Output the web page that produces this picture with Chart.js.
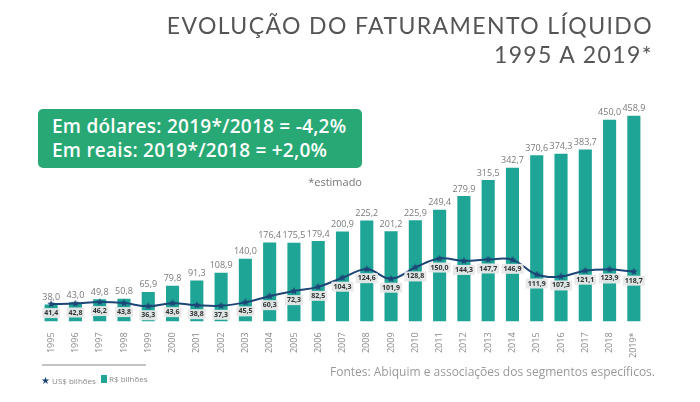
<!DOCTYPE html>
<html>
<head>
<meta charset="utf-8">
<script src="https://cdn.jsdelivr.net/npm/chart.js@4/dist/chart.umd.min.js"></script>
<style>
  html, body { margin: 0; padding: 0; background: #fff; }
  #wrap { position: relative; width: 700px; height: 402px; overflow: hidden; font-family: "Open Sans", "Lato", sans-serif; }
  #chart { position: absolute; left: 0; top: 0; }
  .title { position: absolute; right: 47px; color: #555; font-family: "Lato", "Open Sans", sans-serif; font-weight: 400; font-size: 23px; letter-spacing: 1.4px; white-space: nowrap; }
  #box { position: absolute; left: 38px; top: 109px; width: 324px; height: 59px; background: #28a874; border-radius: 5px; color: #fff; font-weight: 600; font-size: 19px; letter-spacing: 0.25px; line-height: 24px; padding: 5px 0 0 14px; box-sizing: border-box; white-space: nowrap; }
  #est { position: absolute; left: 290px; top: 174px; width: 72px; text-align: right; font-size: 11px; color: #777; }
  #sep { position: absolute; left: 42px; top: 364px; width: 104px; height: 2px; background: #c4c4c4; }
  .leg { position: absolute; top: 373px; font-size: 8px; color: #888; white-space: nowrap; }
  #src { position: absolute; left: 330px; top: 363px; font-size: 12px; color: #9a9a9a; white-space: nowrap; }
</style>
</head>
<body>
<div id="wrap">
  <canvas id="chart" width="700" height="402"></canvas>
  <div class="title" style="top:11px">EVOLUÇÃO DO FATURAMENTO LÍQUIDO</div>
  <div class="title" style="top:40px">1995 A 2019*</div>
  <div id="box">Em dólares: 2019*/2018 = -4,2%<br>Em reais: 2019*/2018 = +2,0%</div>
  <div id="est">*estimado</div>
  <div id="sep"></div>
  <div class="leg" style="left:41px"><span style="color:#1d4677;font-size:10px">&#9733;</span> US$ bilhões</div>
  <div class="leg" style="left:101px"><span style="display:inline-block;width:6px;height:8px;background:#1fa596;vertical-align:-1px"></span> R$ bilhões</div>
  <div id="src">Fontes: Abiquim e associações dos segmentos específicos.</div>
</div>
<script>
const years = ['1995','1996','1997','1998','1999','2000','2001','2002','2003','2004','2005','2006','2007',
               '2008','2009','2010','2011','2012','2013','2014','2015','2016','2017','2018','2019*'];
const reais = [38.0, 43.0, 49.8, 50.8, 65.9, 79.8, 91.3, 108.9, 140.0, 176.4, 175.5, 179.4, 200.9,
               225.2, 201.2, 225.9, 249.4, 279.9, 315.5, 342.7, 370.6, 374.3, 383.7, 450.0, 458.9];
const dolares = [41.4, 42.8, 46.2, 43.8, 36.3, 43.6, 38.8, 37.3, 45.5, 60.3, 72.3, 82.5, 104.3,
                 124.6, 101.9, 128.8, 150.0, 144.3, 147.7, 146.9, 111.9, 107.3, 121.1, 123.9, 118.7];

const teal = '#1fa596';
const navy = '#1d4677';
const fmt = v => v.toFixed(1).replace('.', ',');

// filled star used as point marker
function makeStar(size, color) {
    const c = document.createElement('canvas');
    c.width = size; c.height = size;
    const g = c.getContext('2d');
    const cx = size / 2, cy = size / 2, R = size / 2, r = R * 0.45;
    g.beginPath();
    for (let i = 0; i < 10; i++) {
        const a = -Math.PI / 2 + i * Math.PI / 5;
        const rr = i % 2 ? r : R;
        g.lineTo(cx + rr * Math.cos(a), cy + rr * Math.sin(a));
    }
    g.closePath();
    g.fillStyle = color;
    g.fill();
    return c;
}
const star = makeStar(8, navy);

const labelsPlugin = {
    id: 'valueLabels',
    afterDatasetsDraw(chart) {
        const ctx = chart.ctx;
        ctx.save();
        // bar values
        const bars = chart.getDatasetMeta(1);
        ctx.font = '9px "Open Sans", sans-serif';
        ctx.fillStyle = '#7a7a7a';
        ctx.textAlign = 'center';
        ctx.textBaseline = 'middle';
        bars.data.forEach((el, i) => {
            ctx.fillText(fmt(reais[i]), el.x, el.y - 7);
        });
        // line values in grey boxes
        const line = chart.getDatasetMeta(0);
        ctx.font = 'bold 7px "Open Sans", sans-serif';
        line.data.forEach((el, i) => {
            const t = fmt(dolares[i]);
            const w = ctx.measureText(t).width + 4;
            const y = el.y + 9;
            ctx.fillStyle = 'rgba(232,232,232,0.95)';
            ctx.fillRect(el.x - w / 2, y - 5, w, 10);
            ctx.fillStyle = '#333';
            ctx.fillText(t, el.x, y);
        });
        ctx.restore();
    }
};

new Chart(document.getElementById('chart'), {
    data: {
        labels: years,
        datasets: [
            {
                type: 'line',
                label: 'US$ bilhões',
                data: dolares,
                borderColor: navy,
                borderWidth: 2,
                tension: 0.4,
                pointStyle: star,
                pointRadius: 4,
                yAxisID: 'y1',
                order: 0
            },
            {
                type: 'bar',
                label: 'R$ bilhões',
                data: reais,
                backgroundColor: teal,
                barPercentage: 0.54,
                categoryPercentage: 1.0,
                yAxisID: 'y',
                order: 1
            }
        ]
    },
    options: {
        responsive: false,
        animation: false,
        layout: { padding: { left: 39, right: 54, top: 100, bottom: 41 } },
        plugins: {
            legend: { display: false },
            tooltip: { enabled: false }
        },
        scales: {
            x: {
                grid: { display: false },
                border: { display: false },
                ticks: {
                    color: '#8a8a8a',
                    font: { size: 9, family: '"Open Sans", sans-serif' },
                    minRotation: 90, maxRotation: 90,
                    padding: 3
                }
            },
            y: { display: false, min: 0, max: 494 },
            y1: { display: false, min: 0, max: 528 }
        }
    },
    plugins: [labelsPlugin]
});
</script>
</body>
</html>
